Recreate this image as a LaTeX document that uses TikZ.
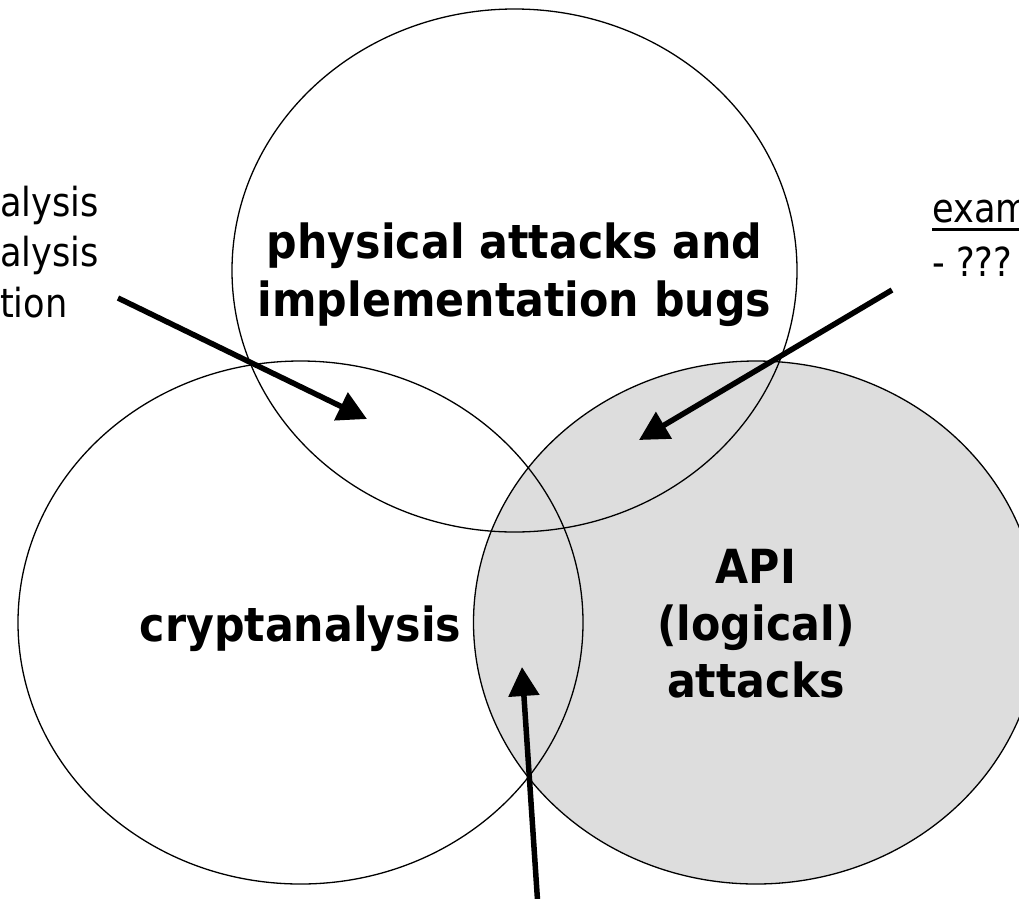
\documentclass[tikz,border=0pt]{standalone}
\usepackage{fontspec}
\setmainfont{DejaVu Sans}
\newfontfamily\lblfamily[FakeStretch=0.91]{DejaVu Sans}
\newfontfamily\notefamily[FakeStretch=0.88]{DejaVu Sans}
\usetikzlibrary{shapes.geometric,arrows.meta}
\definecolor{apigray}{HTML}{DDDDDD}
\begin{document}
\begin{tikzpicture}[x=1pt,y=-1pt,
  venn/.style={ellipse,draw=black,line width=1.3pt,minimum width=565pt,minimum height=523pt,inner sep=0pt,outer sep=0pt},
  lbl/.style={font=\lblfamily\bfseries\fontsize{47}{58}\selectfont,align=center,inner sep=0pt},
  note/.style={font=\notefamily\fontsize{40}{50}\selectfont,inner sep=0pt},
  pointer/.style={line width=5.5pt,-{Triangle[length=29pt,width=30pt]}}]
\useasboundingbox (0,0) rectangle (1019,898);
% circles (filled one first)
\node[venn,fill=apigray] (api) at (756,622.5) {};
\node[venn] (crypt) at (300.5,622.5) {};
\node[venn] (phys) at (514.5,270.5) {};
% labels
\node[lbl,anchor=center] (physlbl) at ([yshift=-4.5pt]phys.center) {physical attacks and\\implementation bugs};
\node[lbl,anchor=base] (cryptlbl) at (300.5,641) {cryptanalysis};
\node[lbl,anchor=center,font=\lblfamily\bfseries\fontsize{47}{57}\selectfont] (apilbl) at ([yshift=-1pt]api.center) {API\\(logical)\\attacks};
% side notes (cut by the page edge, as in the original slide)
\node[note,anchor=base west] (l1) at (0,216) {alysis};
\node[note,anchor=base west] (l2) at (0,266.5) {alysis};
\node[note,anchor=base west] (l3) at (0,317) {tion};
\node[note,anchor=base west] (r1) at (932,222) {exam};
\node[note,anchor=base west] (r2) at (932,276) {- ???};
\draw[line width=3pt] ([yshift=-7pt]r1.base west) -- ([yshift=-7pt]r1.base east);
% arrows
\coordinate (a1s) at (118,298);
\coordinate (a1e) at (367,419);
\coordinate (a2s) at (892,290);
\coordinate (a2e) at (639,440);
\coordinate (a3s) at (537.5,900);
\coordinate (a3e) at (522,667);
\draw[pointer] (a1s) -- (a1e);
\draw[pointer] (a2s) -- (a2e);
\draw[pointer] (a3s) -- (a3e);
\end{tikzpicture}
\end{document}
